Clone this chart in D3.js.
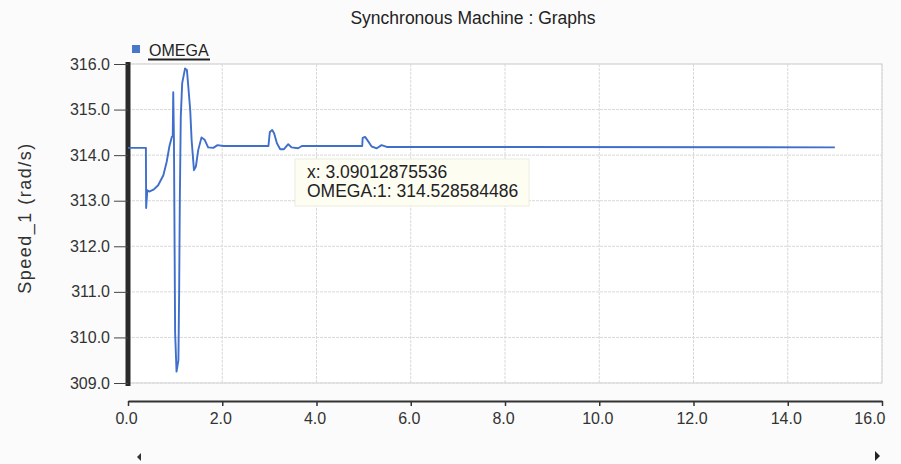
<!DOCTYPE html>
<html>
<head>
<meta charset="utf-8">
<script src="https://cdn.jsdelivr.net/npm/d3@7"></script>
<style>
  body { margin: 0; background: #fbfbfb; }
  svg { display: block; font-family: "Liberation Sans", Arial, sans-serif; }
  .grid line { stroke: #d9d9d9; stroke-dasharray: 3,1; }
  .y-axis text, .x-axis text { font-size: 16px; fill: #333; }
</style>
</head>
<body>
<div id="chart"></div>
<script>
// Synchronous machine rotor speed (rad/s) against time (s)
const timeS = [0, 0.38, 0.385, 0.41, 0.45, 0.55, 0.64, 0.75, 0.82, 0.88, 0.93, 0.95,
    0.96, 0.975, 1.0, 1.03, 1.07, 1.085, 1.10, 1.12, 1.15, 1.21, 1.25, 1.28, 1.32,
    1.35, 1.40, 1.44, 1.49, 1.56, 1.63, 1.70, 1.81, 1.90, 2.02, 2.98, 3.01, 3.06,
    3.10, 3.16, 3.23, 3.31, 3.40, 3.47, 3.61, 3.69, 4.97, 4.98, 5.03, 5.08, 5.17,
    5.28, 5.38, 5.49, 15.0];
const omega = [314.16, 314.16, 312.84, 313.23, 313.2, 313.25, 313.34, 313.56, 313.85,
    314.2, 314.4, 314.42, 315.38, 314.33, 310.1, 309.25, 309.5, 310.97, 313.02,
    314.84, 315.58, 315.9, 315.87, 315.5, 314.99, 314.33, 313.67, 313.75, 314.11,
    314.39, 314.33, 314.17, 314.16, 314.22, 314.2, 314.2, 314.51, 314.55, 314.48,
    314.26, 314.13, 314.13, 314.24, 314.17, 314.15, 314.2, 314.2, 314.38, 314.40,
    314.33, 314.19, 314.15, 314.22, 314.18, 314.17];

const xTicks = [0, 2, 4, 6, 8, 10, 12, 14, 16];
const yTicks = [309, 310, 311, 312, 313, 314, 315, 316];
const tooltipLines = ['x: 3.09012875536', 'OMEGA:1: 314.528584486'];

const width = 901;
const height = 464;
const plot = { left: 128, right: 882, top: 64, bottom: 383 };

const svg = d3.select('#chart')
    .append('svg')
    .attr('width', width)
    .attr('height', height);

const x = d3.scaleLinear().domain([0, 16]).range([plot.left, plot.right]);
const y = d3.scaleLinear().domain([309, 316]).range([plot.bottom, plot.top]);

// plot background
svg.append('rect')
    .attr('x', plot.left)
    .attr('y', plot.top)
    .attr('width', plot.right - plot.left)
    .attr('height', plot.bottom - plot.top)
    .attr('fill', '#ffffff')
    .attr('stroke', '#d2d2d2');

// grid lines
const grid = svg.append('g').attr('class', 'grid');
grid.selectAll('.h')
    .data(yTicks)
    .enter()
    .append('line')
    .attr('x1', plot.left)
    .attr('x2', plot.right)
    .attr('y1', d => y(d))
    .attr('y2', d => y(d));
grid.selectAll('.v')
    .data(xTicks.slice(1))
    .enter()
    .append('line')
    .attr('x1', d => x(d))
    .attr('x2', d => x(d))
    .attr('y1', plot.top)
    .attr('y2', plot.bottom);

// title
svg.append('text')
    .attr('x', 473)
    .attr('y', 24)
    .attr('text-anchor', 'middle')
    .attr('font-size', 17.5)
    .attr('fill', '#222')
    .text('Synchronous Machine : Graphs');

// legend
svg.append('rect')
    .attr('x', 132)
    .attr('y', 45)
    .attr('width', 8)
    .attr('height', 8)
    .attr('fill', '#4a78c8');
svg.append('text')
    .attr('x', 149)
    .attr('y', 56)
    .attr('font-size', 16)
    .attr('fill', '#222')
    .text('OMEGA');
svg.append('line')
    .attr('x1', 148)
    .attr('x2', 210)
    .attr('y1', 59.5)
    .attr('y2', 59.5)
    .attr('stroke', '#222')
    .attr('stroke-width', 2);

// y axis
const yAxis = svg.append('g')
    .attr('class', 'y-axis')
    .attr('transform', `translate(${plot.left},0)`)
    .call(d3.axisLeft(y)
        .tickValues(yTicks)
        .tickFormat(d3.format('.1f'))
        .tickSize(14)
        .tickSizeOuter(0)
        .tickPadding(4));
yAxis.select('.domain')
    .attr('stroke', '#2a2a2a')
    .attr('stroke-width', 5)
    .attr('d', `M0,${plot.top - 2}V${plot.bottom + 3}`);
yAxis.selectAll('.tick line').attr('stroke', '#444');

svg.append('text')
    .attr('transform', 'translate(31,218) rotate(-90)')
    .attr('text-anchor', 'middle')
    .attr('font-size', 18)
    .attr('letter-spacing', 1.5)
    .attr('fill', '#333')
    .text('Speed_1 (rad/s)');

// x axis (separate strip below the plot)
const xAxis = svg.append('g')
    .attr('class', 'x-axis')
    .attr('transform', 'translate(0,401)')
    .call(d3.axisBottom(x)
        .tickValues(xTicks)
        .tickFormat(d3.format('.1f'))
        .tickSize(5)
        .tickSizeOuter(0)
        .tickPadding(7));
xAxis.select('.domain').attr('stroke', '#333').attr('stroke-width', 2);
xAxis.selectAll('.tick line').attr('stroke', '#333').attr('stroke-width', 1.5);
xAxis.selectAll('.tick text').attr('dx', -2);
xAxis.selectAll('.tick text')
    .filter(d => d === 16)
    .attr('text-anchor', 'end')
    .attr('dx', 3);

// scroll arrows
svg.append('path')
    .attr('d', 'M137,457 L141,453 L141,461 Z')
    .attr('fill', '#333');
svg.append('path')
    .attr('d', 'M880,456 L875,451 L875,461 Z')
    .attr('fill', '#222');

// the speed trace
const points = timeS.map((t, i) => [t, omega[i]]);
const line = d3.line()
    .x(d => x(d[0]))
    .y(d => y(d[1]));
svg.append('path')
    .datum(points)
    .attr('d', line)
    .attr('fill', 'none')
    .attr('stroke', '#3f6fcb')
    .attr('stroke-width', 1.9)
    .attr('stroke-linejoin', 'round');

// hover tooltip box
svg.append('rect')
    .attr('x', 295)
    .attr('y', 159)
    .attr('width', 234)
    .attr('height', 47)
    .attr('fill', '#fdfdf2')
    .attr('stroke', '#ececdf');
svg.append('g')
    .selectAll('text')
    .data(tooltipLines)
    .enter()
    .append('text')
    .attr('x', 307)
    .attr('y', (d, i) => 178 + i * 19)
    .attr('font-size', 17.5)
    .attr('fill', '#222')
    .text(d => d);
</script>
</body>
</html>
